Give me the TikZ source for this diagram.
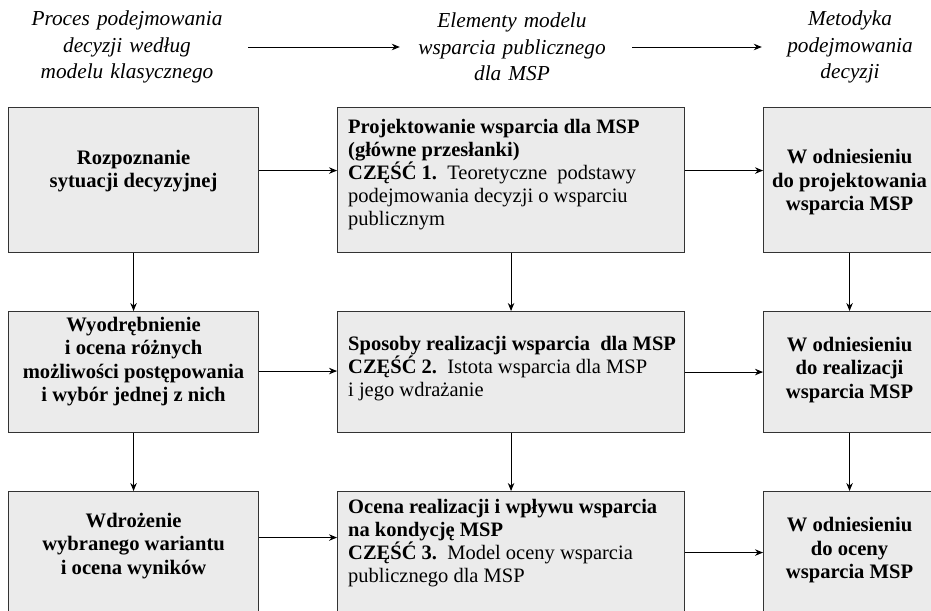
\documentclass[tikz,border=0pt]{standalone}
\usepackage{fontspec}
\setmainfont{Liberation Serif}
\usetikzlibrary{arrows.meta}
\definecolor{boxfill}{HTML}{EBEBEB}
\definecolor{boxline}{HTML}{333333}
\begin{document}
\begin{tikzpicture}[x=1pt,y=-1pt,
  box/.style={draw=boxline,fill=boxfill,line width=1.1pt,inner sep=0pt,anchor=north west},
  ctext/.style={inner sep=0pt,align=center,font=\fontsize{20.6}{23.5}\selectfont\bfseries},
  ltext/.style={inner sep=0pt,align=left,anchor=west,font=\fontsize{20.5}{23}\selectfont},
  head/.style={inner sep=0pt,align=center,font=\fontsize{21.3}{26.7}\selectfont\itshape},
  arr/.style={-{Stealth[length=8pt,width=6.5pt]},line width=0.9pt,black}]
\clip (0,0) rectangle (931,610);
% header
\node[head,text width=242pt] (h1) at (127,47) {Proces podejmowania\\decyzji według\\modelu klasycznego};
\node[head,text width=224pt] (h2) at (512,47) {Elementy modelu\\wsparcia publicznego\\dla MSP};
\node[head,text width=176pt] (h3) at (850,47) {Metodyka\\podejmowania\\decyzji};
\draw[arr] (h1.east) -- (h2.west);
\draw[arr] ([xshift=8pt]h2.east) -- (h3.west);
% boxes
\node[box,minimum width=250pt,minimum height=145pt] (L1) at (8,107) {};
\node[box,minimum width=250pt,minimum height=121pt] (L2) at (8,311) {};
\node[box,minimum width=250pt,minimum height=125pt] (L3) at (8,491) {};
\node[box,minimum width=347pt,minimum height=145pt] (M1) at (337,107) {};
\node[box,minimum width=347pt,minimum height=121pt] (M2) at (337,311) {};
\node[box,minimum width=347pt,minimum height=125pt] (M3) at (337,491) {};
\node[box,minimum width=172pt,minimum height=145pt] (R1) at (763,107) {};
\node[box,minimum width=172pt,minimum height=121pt] (R2) at (763,311) {};
\node[box,minimum width=172pt,minimum height=125pt] (R3) at (763,491) {};
% texts
\node[ctext] (L1t) at ([yshift=-64pt]L1.north) {Rozpoznanie\\sytuacji decyzyjnej};
\node[ctext] (L2t) at ([yshift=-50.5pt]L2.north) {Wyodrębnienie\\i ocena różnych\\możliwości postępowania\\i wybór jednej z nich};
\node[ctext] (L3t) at ([yshift=-55pt]L3.north) {Wdrożenie\\wybranego wariantu\\i ocena wyników};
\node[ltext] (M1t) at ([xshift=11pt,yshift=-67.5pt]M1.north west) {\textbf{Projektowanie wsparcia dla MSP}\\\textbf{(główne przesłanki)}\\\textbf{CZĘŚĆ 1.}\ \ Teoretyczne\ \ podstawy\\podejmowania decyzji o wsparciu\\publicznym};
\node[ltext] (M2t) at ([xshift=11pt,yshift=-58pt]M2.north west) {\textbf{Sposoby realizacji wsparcia\ \ dla MSP}\\\textbf{CZĘŚĆ 2.}\ \ Istota wsparcia dla MSP\\i jego wdrażanie};
\node[ltext] (M3t) at ([xshift=11pt,yshift=-52pt]M3.north west) {\textbf{Ocena realizacji i wpływu wsparcia}\\\textbf{na kondycję MSP}\\\textbf{CZĘŚĆ 3.}\ \ Model oceny wsparcia\\publicznego dla MSP};
\node[ctext] (R1t) at ([yshift=-75.5pt]R1.north) {W odniesieniu\\do projektowania\\wsparcia MSP};
\node[ctext] (R2t) at ([yshift=-59pt]R2.north) {W odniesieniu\\do realizacji\\wsparcia MSP};
\node[ctext] (R3t) at ([yshift=-59.5pt]R3.north) {W odniesieniu\\do oceny\\wsparcia MSP};
% vertical arrows
\draw[arr] (L1.south) -- (L2.north);
\draw[arr] (L2.south) -- (L3.north);
\draw[arr] (M1.south) -- (M2.north);
\draw[arr] (M2.south) -- (M3.north);
\draw[arr] (R1.south) -- (R2.north);
\draw[arr] (R2.south) -- (R3.north);
% horizontal arrows
\draw[arr] ([yshift=9.5pt]L1.east) -- ([yshift=9.5pt]M1.west);
\draw[arr] ([yshift=9.5pt]M1.east) -- ([yshift=9.5pt]R1.west);
\draw[arr] ([yshift=1pt]L2.east) -- ([yshift=1pt]M2.west);
\draw[arr] ([yshift=0pt]M2.east) -- ([yshift=0pt]R2.west);
\draw[arr] ([yshift=16.5pt]L3.east) -- ([yshift=16.5pt]M3.west);
\draw[arr] ([yshift=1.5pt]M3.east) -- ([yshift=1.5pt]R3.west);
\end{tikzpicture}
\end{document}
